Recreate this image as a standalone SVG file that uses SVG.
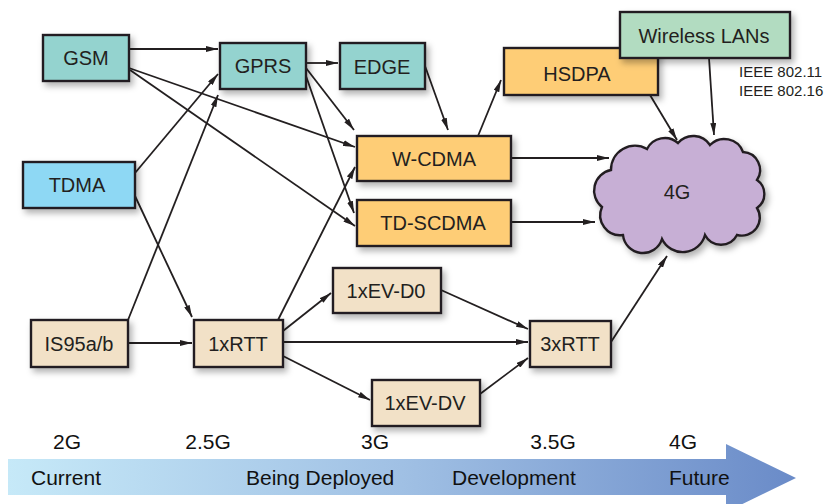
<svg xmlns="http://www.w3.org/2000/svg" width="826" height="504" viewBox="0 0 826 504">
<style>
.box{stroke:#231f20;stroke-width:2.4;filter:url(#sh)}
.t{font-family:"Liberation Sans",Arial,sans-serif;font-size:20px;fill:#231f20;text-anchor:middle}
.b{font-family:"Liberation Sans",Arial,sans-serif;font-size:21px;fill:#111}
.s{font-family:"Liberation Sans",Arial,sans-serif;font-size:15px;fill:#231f20}
.c{stroke:#231f20;stroke-width:1.8;fill:none;marker-end:url(#ah)}
.teal{fill:#94d3cf}.blue{fill:#8ed8f4}.org{fill:#fecd76}.grn{fill:#b2dcc1}.tan{fill:#f2e1c7}
</style>
<defs>
<filter id="sh" x="-20%" y="-20%" width="150%" height="160%">
<feDropShadow dx="3" dy="4" stdDeviation="3" flood-color="#000" flood-opacity="0.3"/>
</filter>
<marker id="ah" markerUnits="userSpaceOnUse" markerWidth="12" markerHeight="6" refX="12" refY="3" orient="auto">
<path d="M0,0 L12,3 L0,6 z" fill="#231f20"/>
</marker>
<linearGradient id="g" x1="8" y1="0" x2="796" y2="0" gradientUnits="userSpaceOnUse">
<stop offset="0" stop-color="#c6e9f8"/>
<stop offset="0.5" stop-color="#a0c0e4"/>
<stop offset="1" stop-color="#6a8bc8"/>
</linearGradient>
</defs>
<rect width="826" height="504" fill="#fff"/>

<g id="timeline">
<polygon points="8,459 726,459 726,444 796,478 726,512 726,495 8,495" fill="url(#g)"/>
<text class="b" x="67" y="449" text-anchor="middle">2G</text>
<text class="b" x="208" y="449" text-anchor="middle">2.5G</text>
<text class="b" x="375" y="449" text-anchor="middle">3G</text>
<text class="b" x="553" y="449" text-anchor="middle">3.5G</text>
<text class="b" x="683" y="449" text-anchor="middle">4G</text>
<text class="b" x="31" y="485">Current</text>
<text class="b" x="246" y="485">Being Deployed</text>
<text class="b" x="452" y="485">Development</text>
<text class="b" x="669" y="485">Future</text>
</g>

<g id="connectors">
<line class="c" x1="129" y1="49" x2="218" y2="49"/>
<line class="c" x1="129" y1="68" x2="355" y2="147"/>
<line class="c" x1="130" y1="70" x2="355" y2="226"/>
<line class="c" x1="306" y1="63" x2="338" y2="63"/>
<line class="c" x1="306" y1="68" x2="354" y2="130"/>
<line class="c" x1="306" y1="76" x2="354" y2="213"/>
<line class="c" x1="135" y1="173" x2="218" y2="74"/>
<line class="c" x1="128" y1="320" x2="218" y2="95"/>
<line class="c" x1="135" y1="196" x2="192" y2="317"/>
<line class="c" x1="278" y1="320" x2="355" y2="167"/>
<line class="c" x1="425" y1="66" x2="448" y2="130"/>
<line class="c" x1="478" y1="136" x2="501" y2="80"/>
<line class="c" x1="511" y1="158" x2="609" y2="158"/>
<line class="c" x1="511" y1="222" x2="595" y2="222"/>
<line class="c" x1="650" y1="95" x2="677" y2="140"/>
<line class="c" x1="709" y1="58" x2="714" y2="135"/>
<line class="c" x1="611" y1="342" x2="667" y2="256"/>
<line class="c" x1="128" y1="343" x2="192" y2="343"/>
<line class="c" x1="283" y1="331" x2="331" y2="293"/>
<line class="c" x1="283" y1="342" x2="528" y2="342"/>
<line class="c" x1="283" y1="356" x2="370" y2="400"/>
<line class="c" x1="441" y1="290" x2="528" y2="329"/>
<line class="c" x1="480" y1="394" x2="528" y2="358"/>
</g>

<g id="gsm"><rect class="box teal" x="43" y="35" width="86" height="46"/><text class="t" x="86" y="65">GSM</text></g>
<g id="gprs"><rect class="box teal" x="220" y="43" width="86" height="46"/><text class="t" x="263" y="73">GPRS</text></g>
<g id="edge"><rect class="box teal" x="340" y="43" width="85" height="46"/><text class="t" x="382" y="74">EDGE</text></g>
<g id="tdma"><rect class="box blue" x="23" y="162" width="112" height="46"/><text class="t" x="77" y="192">TDMA</text></g>
<g id="wcdma"><rect class="box org" x="357" y="136" width="154" height="45"/><text class="t" x="434" y="166">W-CDMA</text></g>
<g id="tdscdma"><rect class="box org" x="357" y="200" width="154" height="46"/><text class="t" x="433" y="230">TD-SCDMA</text></g>
<g id="hsdpa"><rect class="box org" x="504" y="48" width="154" height="47"/><text class="t" x="577" y="81">HSDPA</text></g>
<g id="wlan"><rect class="box grn" x="620" y="12" width="170" height="46"/><text class="t" x="704" y="43">Wireless LANs</text>
<text class="s" x="739" y="77">IEEE 802.11</text>
<text class="s" x="739" y="96">IEEE 802.16</text></g>
<g id="cloud4g"><path class="box" fill="#c7afd5" d="M611,170 A24,24 0 0,1 647,149 A20,20 0 0,1 678,143 A20,20 0 0,1 710,145 A20,20 0 0,1 743,152 A18,18 0 0,1 757,180 A17,17 0 0,1 757,208 A18,18 0 0,1 737,235 A18,18 0 0,1 705,235 A23,23 0 0,1 662,239 A20,20 0 0,1 623,235 A20,20 0 0,1 602,207 A21,21 0 0,1 611,170 Z"/><text class="t" x="677" y="199">4G</text></g>
<g id="is95"><rect class="box tan" x="31" y="320" width="97" height="47"/><text class="t" x="79" y="351">IS95a/b</text></g>
<g id="rtt1x"><rect class="box tan" x="194" y="320" width="89" height="47"/><text class="t" x="238" y="351">1xRTT</text></g>
<g id="evd0"><rect class="box tan" x="333" y="268" width="108" height="45"/><text class="t" x="386" y="298">1xEV-D0</text></g>
<g id="evdv"><rect class="box tan" x="372" y="380" width="108" height="46"/><text class="t" x="425" y="410">1xEV-DV</text></g>
<g id="rtt3x"><rect class="box tan" x="530" y="321" width="81" height="46"/><text class="t" x="570" y="351">3xRTT</text></g>
</svg>
